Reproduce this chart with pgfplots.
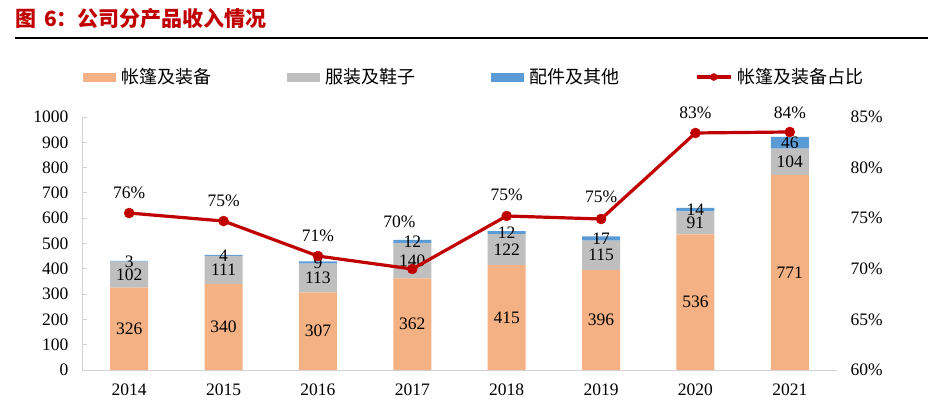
\documentclass[border=0pt]{standalone}
\usepackage{pgfplots}
\usepackage{pgfplotstable}
\pgfplotsset{compat=1.18}
\usepackage{fontspec}
\setmainfont{Liberation Serif}
\newfontfamily\cjk{Noto Sans CJK SC}
\definecolor{cA}{RGB}{244,177,131}
\definecolor{cB}{RGB}{191,191,191}
\definecolor{cC}{RGB}{91,155,213}
\definecolor{cL}{RGB}{192,0,0}
\definecolor{titlered}{RGB}{192,0,0}
\definecolor{axgray}{RGB}{210,210,210}

\pgfplotstableread{
x a b c
0 326 102 3
1 340 111 4
2 307 113 9
3 362 140 12
4 415 122 12
5 396 115 17
6 536 91 14
7 771 104 46
}\bars

\pgfplotstableread{
x y m dx dy
0 75.51 76 0 20
1 74.72 75 0 20
2 71.26 71 0 20
3 69.98 70 -13 47
4 75.22 75 0 21
5 74.92 75 0 22
6 83.42 83 0 20
7 83.52 84 0 19
}\ratio

\pgfplotsset{
  base/.style={scale only axis, width=755bp, height=253bp, xmin=-0.5, xmax=7.5,
    at={(82bp,49bp)}, anchor=south west,
    /pgf/number format/assume math mode=true, /pgf/number format/1000 sep={},
    tick label style={font=\fontsize{17.5bp}{21bp}\selectfont}},
  barleg/.style={legend image code/.code={\fill[##1,draw=none] (0bp,-4.5bp) rectangle (33bp,4.5bp);}},
  lineleg/.style={legend image code/.code={\draw[mark repeat=2, mark phase=2, ##1, mark size=3.5bp] plot coordinates {(0bp,0bp) (17bp,0bp) (34bp,0bp)};}},
}

\begin{document}
\begin{tikzpicture}
\path[use as bounding box] (0,0) rectangle (928bp,419bp);
\node[anchor=west, inner sep=0pt, text=titlered, font=\cjk\bfseries\fontsize{21bp}{25bp}\selectfont] at (15bp,400.5bp) {图\hspace{8bp}6：公司分产品收入情况};
\draw[line width=2bp] (15bp,381bp) -- (928bp,381bp);

\begin{axis}[base, ybar stacked, bar width=38bp, ymin=0, ymax=1000,
  ytick={0,100,...,1000}, xtick={0,...,7},
  xticklabels={2014,2015,2016,2017,2018,2019,2020,2021},
  axis x line*=bottom, axis y line*=left,
  axis line style={draw=axgray, line width=1bp},
  ytick style={draw=axgray, line width=0.8bp}, xtick style={draw=none},
  tick align=inside, major tick length=5bp,
  yticklabel style={xshift=-10bp}, xticklabel style={yshift=-10bp}]
\addplot[fill=cA, draw=none] table[x=x,y=a]{\bars};
\addplot[fill=cB, draw=none] table[x=x,y=b]{\bars};
\addplot[fill=cC, draw=none] table[x=x,y=c]{\bars};
\end{axis}

\begin{axis}[base, ymin=0, ymax=1000, hide axis, nodes near coords, point meta=explicit symbolic,
  every node near coord/.append style={anchor=center, text=black, inner sep=0pt, font=\fontsize{17.5bp}{21bp}\selectfont}]
\addplot[draw=none] table[x=x, y expr=\thisrow{a}/2, meta=a]{\bars};
\addplot[draw=none] table[x=x, y expr=\thisrow{a}+\thisrow{b}/2, meta=b]{\bars};
\addplot[draw=none] table[x=x, y expr=\thisrow{a}+\thisrow{b}+\thisrow{c}/2, meta=c]{\bars};
\end{axis}

\begin{axis}[base, ymin=60, ymax=85, ytick={60,65,...,85}, hide x axis,
  axis y line*=right, y axis line style={draw=none}, ytick style={draw=none},
  yticklabel={\pgfmathprintnumber{\tick}\%}, yticklabel style={anchor=west, xshift=10bp},
  legend style={draw=none, fill=none, at={(0.0013,1.158)}, anchor=west, inner sep=0pt,
    legend columns=4, font=\cjk\fontsize{18bp}{21bp}\selectfont, nodes={inner sep=0pt},
    /tikz/every odd column/.append style={column sep=5bp},
    /tikz/every even column/.append style={column sep=76bp}},
  legend cell align=left]
\addlegendimage{barleg, fill=cA}
\addlegendimage{barleg, fill=cB}
\addlegendimage{barleg, fill=cC}
\addplot[color=cL, line width=3.2bp, mark=*, mark size=5bp,
  mark options={solid, line width=0.5bp}, lineleg,
  nodes near coords={\pgfmathprintnumber{\pgfplotspointmeta}\%}, point meta=explicit,
  visualization depends on={\thisrow{dx} \as \mydx},
  visualization depends on={\thisrow{dy} \as \mydy},
  every node near coord/.append style={anchor=center, text=black, inner sep=0pt,
    xshift=\mydx*1bp, yshift=\mydy*1bp, font=\fontsize{17.5bp}{21bp}\selectfont}]
  table[x=x,y=y,meta=m]{\ratio};
\legend{帐篷及装备,服装及鞋子,配件及其他,帐篷及装备占比}
\end{axis}
\end{tikzpicture}
\end{document}
